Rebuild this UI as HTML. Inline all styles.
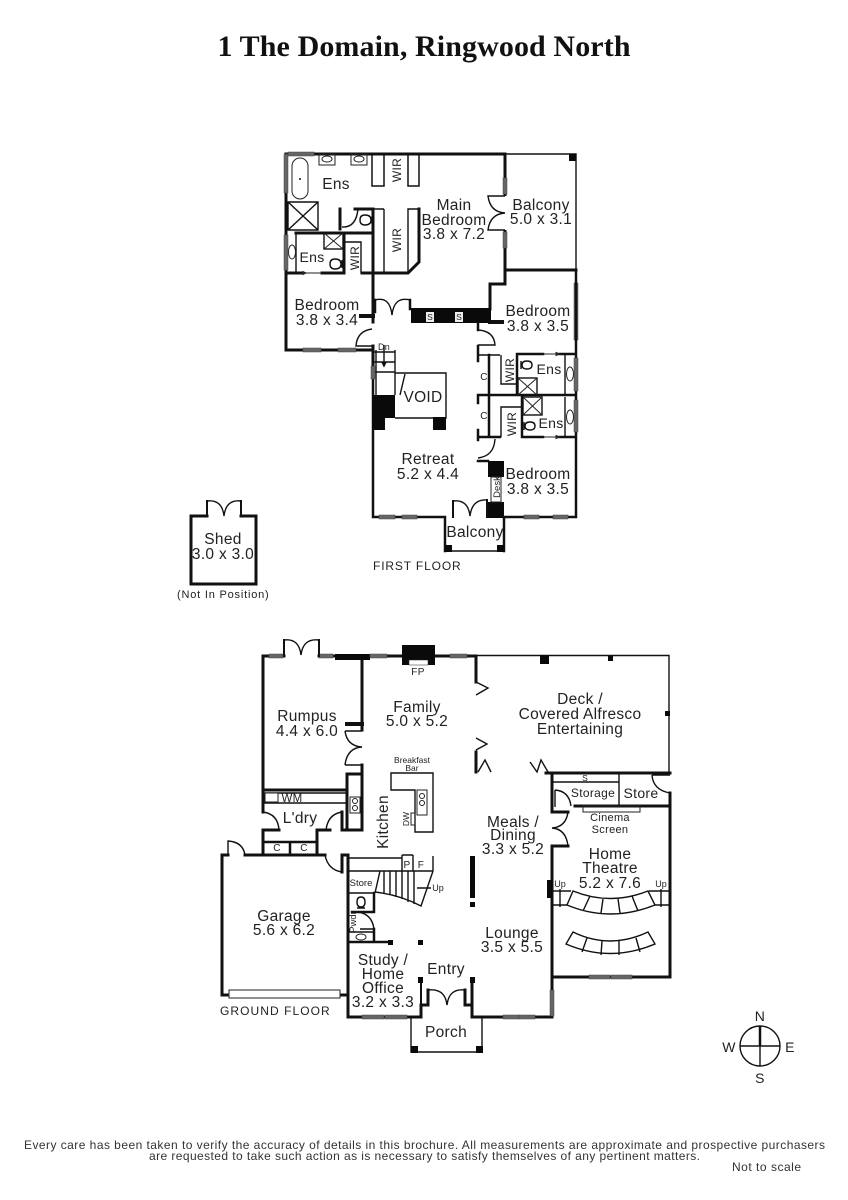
<!DOCTYPE html>
<html><head><meta charset="utf-8"><style>
html,body{margin:0;padding:0;background:#fff}
svg{display:block}
text{font-family:"Liberation Sans",sans-serif;fill:#222;text-anchor:middle}
.l{font-size:15.5px;letter-spacing:.3px}
.m{font-size:12px;letter-spacing:.3px}
.s{font-size:10px;letter-spacing:.3px}
.x{font-size:8.5px}
.w{fill:none;stroke:#111;stroke-width:3;stroke-linecap:square;stroke-linejoin:miter}
.n{fill:none;stroke:#111;stroke-width:1.4}
.t{fill:none;stroke:#222;stroke-width:1}
.g{fill:#666;stroke:#444;stroke-width:.5}
.b{fill:#0a0a0a}
.f{fill:#fff;stroke:#222;stroke-width:1}
</style></head><body>
<svg width="848" height="1200" viewBox="0 0 848 1200" xmlns="http://www.w3.org/2000/svg">
<rect width="848" height="1200" fill="#fff"/>
<text x="424" y="56" style="font-family:'Liberation Serif',serif;font-weight:bold;font-size:30px;fill:#111" textLength="413" lengthAdjust="spacing">1 The Domain, Ringwood North</text>

<!-- FIRST FLOOR walls -->
<path class="w" d="M286 154H505V270M505 270H576M505 284H490V309M505 270V284M286 154V350H373M373 346V374"/>
<path class="n" d="M505 154H576V270"/>
<path class="w" d="M373 209V322M286 273H302M322 273H343M362 273H408L419 262V209M344 233V273M296 233H373M340 209V229M355 209H373"/>
<path class="w" d="M361 316H373" style="stroke-width:4"/>
<path class="w" d="M490 322H502" style="stroke-width:4"/>
<rect class="b" x="411" y="308" width="80" height="15"/>
<rect x="426" y="312" width="8" height="10" fill="#eee"/><rect x="455" y="312" width="8" height="10" fill="#eee"/>
<text class="x" x="430" y="320">S</text><text class="x" x="459" y="320">S</text>
<path class="w" d="M375 300V312M410 300V309" style="stroke-width:2.5"/>
<path class="n" d="M375 300Q390 296 392 315Q394 296 410 300"/>
<path class="n" d="M372 329Q357 331 356 346H372M478 330Q494 331 495 345H478"/>
<path class="w" d="M478 323V330M478 346V361" style="stroke-width:2.500"/>
<path class="n" d="M342 227Q356 228 358 209M288 202h30v28h-30zM288 202l30 28M318 202l-30 28"/>
<rect class="t" x="292" y="158" width="16" height="41" rx="8"/><circle cx="300" cy="179" r="1" fill="#111"/>
<rect class="t" x="319" y="154" width="16" height="11"/><ellipse class="t" cx="327" cy="159" rx="5" ry="3"/>
<rect class="t" x="351" y="154" width="16" height="11"/><ellipse class="t" cx="359" cy="159" rx="5" ry="3"/>
<rect class="w" style="stroke-width:1.5" x="372" y="154" width="12" height="32"/>
<rect class="w" style="stroke-width:1.5" x="408" y="154" width="11" height="32"/>
<path class="n" d="M384 209V273M373 209H384M408 273V209H419M296 233V273M344 242H361V273"/>
<rect x="324" y="233" width="19" height="16" class="n"/><path class="t" d="M324 233l19 16M343 233l-19 16"/>
<ellipse class="t" cx="292" cy="252" rx="3.5" ry="7"/>
<rect class="g" x="284" y="154" width="4" height="39"/><rect class="g" x="284" y="235" width="4" height="35"/>
<rect class="g" x="288" y="152" width="26" height="4"/>
<rect fill="#fff" x="503" y="196" width="5" height="34"/>
<rect class="g" x="503" y="178" width="4" height="16"/><rect class="g" x="503" y="232" width="4" height="16"/>
<path class="n" d="M505 196H488Q490 212 505 213Q490 214 488 230H505"/>
<rect class="b" x="569" y="154" width="7.500" height="7"/>
<path class="t" d="M302 273H322M306 273l-3-1.500v3z"/>
<rect class="g" x="303" y="348" width="18" height="4"/><rect class="g" x="338" y="348" width="18" height="4"/>
<rect class="g" x="574" y="283" width="4" height="57"/>
<g class="n"><path d="M365 215q6 0 6 5t-6 5q-5 0-5-5t5-5M372 216v8" /><path d="M335 259q6 0 6 5t-6 5q-5 0-5-5t5-5M342 260v8"/></g>

<path class="w" d="M576 270V517H504M373 374V517H445M445 517V551M504 517V551M478 395H576M478 437H500M518 354H543M560 354H576M522 437H543M560 437H576M517 354V395M522 397V437M489 355V437M478 395V403M478 430V440M478 461H488" style="stroke-width:2.500"/>
<path class="n" d="M445 551H504M478 355H500M501 355V384H517M501 437V407H522M565 355V395M565 397V437M376 350V395M395 350V395M374 352H395M374 362H395M374 372H395M395 373H446V418H433M395 418H433M405 374L400 395M384 345V365M382 362L384 366L386 362"/>
<path class="t" d="M543 354H560M543 437H560M556 352.500l4 1.500-4 1.500zM556 435.500l4 1.500-4 1.500z"/>
<rect class="b" x="372" y="395" width="23" height="23"/><rect class="b" x="372" y="418" width="13" height="12"/>
<rect class="b" x="433" y="417" width="13" height="13"/>
<rect class="b" x="488" y="461" width="16" height="16"/><rect class="b" x="488" y="502" width="16" height="16"/>
<rect class="f" x="491" y="477" width="10" height="25"/>
<rect class="b" x="445" y="545" width="7" height="7"/><rect class="b" x="497" y="545" width="7" height="7"/>
<rect class="g" x="371" y="366" width="4" height="13"/>
<rect class="g" x="379" y="515" width="16" height="4"/><rect class="g" x="402" y="515" width="15" height="4"/>
<rect class="g" x="524" y="515" width="15" height="4"/><rect class="g" x="553" y="515" width="15" height="4"/>
<rect class="g" x="574" y="358" width="4" height="33"/><rect class="g" x="574" y="400" width="4" height="32"/>
<path class="w" style="stroke-width:2" d="M453 517V501M487 517V500"/>
<path class="n" d="M453 501Q468 499 470 516Q472 499 487 500M478 458Q494 456 495 439"/>
<rect class="n" x="518" y="378" width="19" height="17"/><path class="t" d="M518 378l19 17M537 378l-19 17"/>
<rect class="n" x="523" y="397" width="19" height="18"/><path class="t" d="M523 397l19 18M542 397l-19 18"/>
<ellipse class="t" cx="570" cy="374" rx="3.500" ry="7"/><ellipse class="t" cx="570" cy="417" rx="3.500" ry="7"/>
<g class="n"><path d="M527 361q5 0 5 4t-5 4q-5 0-5-4t5-4M521 361v8"/><path d="M530 422q5 0 5 4t-5 4q-5 0-5-4t5-4M524 422v8"/></g>

<!-- First-floor labels -->
<text class="l" x="336" y="189">Ens</text>
<text class="l" x="312" y="262" style="font-size:14px">Ens</text>
<text class="m" transform="translate(401,170) rotate(-90)">WIR</text>
<text class="m" transform="translate(401,240) rotate(-90)">WIR</text>
<text class="m" transform="translate(359,258) rotate(-90)">WIR</text>
<text class="m" transform="translate(514,370) rotate(-90)">WIR</text>
<text class="m" transform="translate(516,424) rotate(-90)">WIR</text>
<text class="l" x="454" y="210">Main</text><text class="l" x="454" y="225">Bedroom</text><text class="l" x="454" y="239">3.8 x 7.2</text>
<text class="l" x="541" y="210">Balcony</text><text class="l" x="541" y="224">5.0 x 3.1</text>
<text class="l" x="327" y="310">Bedroom</text><text class="l" x="327" y="325">3.8 x 3.4</text>
<text class="l" x="538" y="316">Bedroom</text><text class="l" x="538" y="331">3.8 x 3.5</text>
<text class="l" x="549" y="374" style="font-size:14px">Ens</text><text class="l" x="551" y="428" style="font-size:14px">Ens</text>
<text class="s" x="384" y="350" style="font-size:9px">Dn</text>
<text class="s" x="484" y="380">C</text><text class="s" x="484" y="419">C</text>
<text class="l" x="423" y="402">VOID</text>
<text class="l" x="428" y="464">Retreat</text><text class="l" x="428" y="479">5.2 x 4.4</text>
<text class="l" x="538" y="479">Bedroom</text><text class="l" x="538" y="494">3.8 x 3.5</text>
<text class="x" transform="translate(500,487) rotate(-90)" style="font-size:9.500px">Desk</text>
<text class="l" x="475" y="537">Balcony</text>
<text class="m" x="417" y="570" textLength="88" lengthAdjust="spacing">FIRST FLOOR</text>

<!-- Shed -->
<path class="w" d="M207 516H191V584H256V516H241" style="stroke-width:3"/>
<path class="w" d="M207 516V501M241 516V501" style="stroke-width:2"/>
<path class="n" d="M207 501Q222 499 224 516Q226 499 241 501"/>
<text class="l" x="223" y="544">Shed</text><text class="l" x="223" y="559">3.0 x 3.0</text>
<text class="s" x="223" y="598" style="font-size:11px" textLength="92" lengthAdjust="spacing">(Not In Position)</text>

<!-- GROUND FLOOR -->
<path class="w" d="M263 656V812M263 830V855M263 656H284M319 656H335M387 656H402M435 656H450M467 656H476M476 656V682M362 658V730M362 765V774H347V830M362 774V830M263 790H347M263 830H279M317 855V830H330M342 812V830H362M222 855H228M245 855H325M222 855V995H229M340 995H348M348 855V1017H421V1005H428V990M342 855V872M342 855H348M465 990V1005H472V983M472 1017H552M472 983V1017M552 846V1017M552 846H568M552 773V812H568M546 773H670M670 793V976M552 977H670M575 806H670M476 752V772"/>
<rect class="b" x="335" y="654" width="35" height="6"/>
<rect class="b" x="402" y="645" width="33" height="20"/><rect x="409" y="660" width="19" height="5" fill="#fff" stroke="#222" stroke-width=".5"/>
<rect class="g" x="269" y="654" width="14" height="4"/><rect class="g" x="319" y="654" width="14" height="4"/>
<rect class="g" x="370" y="654" width="17" height="4"/><rect class="g" x="450" y="654" width="17" height="4"/>
<path class="w" d="M284 656V640M319 656V640" style="stroke-width:2"/>
<path class="n" d="M284 640Q299 638 301 655Q303 638 319 640"/>
<path class="w" d="M347 724H362" style="stroke-width:4"/>
<path class="n" d="M345 731Q347 746 362 747Q347 748 345 765M345 731H362M345 765H362"/>
<path class="n" d="M263 803H347M263 812Q278 814 279 830M342 812Q328 814 326 830M263 793H347"/>
<rect class="f" x="265" y="793" width="13" height="9"/>
<text class="m" x="292" y="802" style="font-size:11.500px">WM</text>
<rect class="f" x="350" y="797" width="10" height="16"/><circle class="t" cx="355" cy="801" r="2.500"/><circle class="t" cx="355" cy="808" r="2.500"/>
<path class="w" d="M263 842H317M290 842V855" style="stroke-width:2.500"/>
<text class="s" x="277" y="851">C</text><text class="s" x="304" y="851">C</text>
<text class="l" x="300" y="823">L'dry</text>
<text class="l" x="307" y="721">Rumpus</text><text class="l" x="307" y="736">4.4 x 6.0</text>
<text class="l" x="417" y="712">Family</text><text class="l" x="417" y="726">5.0 x 5.2</text>
<text class="s" x="418" y="675">FP</text>
<text class="l" transform="translate(388,822) rotate(-90)">Kitchen</text>
<text class="x" x="412" y="763">Breakfast</text><text class="x" x="412" y="771">Bar</text>
<path class="n" d="M391 773H433V832H415V790H391Z"/>
<rect class="f" x="417" y="790" width="10" height="25"/><circle class="t" cx="422" cy="796" r="2.500"/><circle class="t" cx="422" cy="803" r="2.500"/>
<rect class="t" x="411" y="813" width="4" height="12"/>
<text class="x" transform="translate(409,819) rotate(-90)">DW</text>

<!-- deck -->
<path class="n" d="M476 655.500H669V773M476 682L488 688L476 695M476 738L487 744L476 750M478 772L485 760L491 772M530 762L537 772L541 760L548 772"/>
<rect class="b" x="540" y="655" width="9" height="9"/><rect class="b" x="608" y="656" width="5" height="5"/><rect class="b" x="665" y="711" width="5" height="5"/>
<text class="l" x="580" y="704">Deck /</text><text class="l" x="580" y="719">Covered Alfresco</text><text class="l" x="580" y="734">Entertaining</text>
<path class="n" d="M552 782H619M619 773V806M555 790Q569 791 571 806M555 790V807M652 775Q653 790 670 793M652 775H670"/>
<text class="x" x="585" y="781">S</text>
<text class="m" x="593" y="797">Storage</text><text class="l" x="641" y="798" style="font-size:14px">Store</text>
<rect class="t" x="583" y="806" width="57" height="6"/>
<text class="m" x="610" y="821" style="font-size:11px">Cinema</text><text class="m" x="610" y="833" style="font-size:11px">Screen</text>
<path class="n" d="M568 812Q566 827 552 828Q566 829 568 846"/>
<text class="l" x="610" y="859">Home</text><text class="l" x="610" y="873">Theatre</text><text class="l" x="610" y="888">5.2 x 7.6</text>
<rect class="b" x="547" y="880" width="5" height="18"/>
<text class="x" x="560" y="887" style="font-size:9px">Up</text><text class="x" x="661" y="887" style="font-size:9px">Up</text>
<path class="n" d="M552 891H571M649 891H670M552 905H567M655 905H670M560 889V907M661 889V907"/>
<path class="n" d="M573 891Q610 906 648 891L655 905Q610 923 567 905ZM590 896L583 911M603 899L601 913M618 899L620 913M632 896L638 911"/>
<path class="n" d="M573 932Q610 950 648 932L655 944Q610 963 566 944ZM587 938L582 952M602 941L601 955M619 941V955M636 938L640 952"/>
<rect class="g" x="589" y="975" width="21" height="4"/><rect class="g" x="611" y="975" width="21" height="4"/>
<rect class="g" x="550" y="990" width="4" height="26"/>
<rect class="b" x="470" y="856" width="5" height="42"/><rect class="b" x="470" y="902" width="5" height="5"/>
<text class="l" x="513" y="827">Meals /</text><text class="l" x="513" y="840">Dining</text><text class="l" x="513" y="854">3.3 x 5.2</text>
<text class="l" x="512" y="938">Lounge</text><text class="l" x="512" y="952">3.5 x 5.5</text>

<!-- garage & stairs -->
<path class="n" d="M228 855V841Q243 842 245 855M325 855Q328 870 342 872"/>
<rect class="f" x="229" y="990" width="111" height="8"/>
<path class="n" d="M348 858H402M348 871H433M402 855V871M413 855V871M402 855H413M433 856V871"/>
<text class="s" x="407" y="868">P</text><text class="s" x="421" y="868">F</text>
<path class="n" d="M380 871L375 893M348 893H374M375 892Q400 895 421 906L433 871M384 871V894M390 871V895M396 871V897M402 871V899M408 871V902M414 871V904M417 888H431"/>
<text class="x" x="361" y="886" style="font-size:9.500px">Store</text><text class="x" x="438" y="891" style="font-size:9px">Up</text>
<path class="w" d="M374 893V912H352M374 929V942M348 942H390" style="stroke-width:2.500"/>
<path class="n" d="M358 912Q372 914 374 929H360M348 932H374"/>
<ellipse class="t" cx="361" cy="937" rx="5" ry="3"/>
<g class="n"><path d="M361 897q4 0 4 5t-4 5q-4 0-4-5t4-5M357 908h8"/></g>
<text class="x" transform="translate(356,922) rotate(-90)" style="font-size:9.500px">Pwdr</text>
<rect class="b" x="388" y="940" width="5" height="5"/><rect class="b" x="418" y="940" width="5" height="5"/>
<rect class="b" x="418" y="977" width="5" height="6"/><rect class="b" x="470" y="977" width="5" height="6"/>
<path class="w" d="M421 983V1005" style="stroke-width:2"/>
<path class="n" d="M428 990Q445 988 447 1005Q449 988 465 990"/>
<text class="l" x="383" y="965">Study /</text><text class="l" x="383" y="979">Home</text><text class="l" x="383" y="993">Office</text><text class="l" x="383" y="1007">3.2 x 3.3</text>
<text class="l" x="446" y="974">Entry</text>
<text class="l" x="284" y="921">Garage</text><text class="l" x="284" y="935">5.6 x 6.2</text>
<text class="m" x="275" y="1015" textLength="110" lengthAdjust="spacing">GROUND FLOOR</text>
<rect class="g" x="362" y="1015" width="22" height="4"/><rect class="g" x="385" y="1015" width="22" height="4"/>
<rect class="g" x="503" y="1015" width="16" height="4"/><rect class="g" x="519" y="1015" width="16" height="4"/>
<path class="n" d="M411 1017V1052H482V1017"/>
<rect class="b" x="411" y="1046" width="7" height="7"/><rect class="b" x="476" y="1046" width="7" height="7"/>
<text class="l" x="446" y="1037">Porch</text>

<!-- compass -->
<circle class="n" cx="760" cy="1046" r="20"/>
<path class="n" d="M740 1046H780M760 1046V1066"/><path d="M760 1026V1046" stroke="#111" stroke-width="2.500"/>
<text class="l" x="760" y="1021" style="font-size:14px">N</text><text class="l" x="760" y="1083" style="font-size:14px">S</text>
<text class="l" x="729" y="1052" style="font-size:14px">W</text><text class="l" x="790" y="1052" style="font-size:14px">E</text>

<!-- footer -->
<text x="424.500" y="1149" style="font-size:12px;fill:#333" textLength="801" lengthAdjust="spacing">Every care has been taken to verify the accuracy of details in this brochure.  All measurements are approximate and prospective purchasers</text>
<text x="424.500" y="1160" style="font-size:12px;fill:#333" textLength="551" lengthAdjust="spacing">are requested to take such action as is necessary to satisfy themselves of any pertinent matters.</text>
<text x="766.500" y="1171" style="font-size:12px;fill:#333" textLength="69" lengthAdjust="spacing">Not to scale</text>
</svg>
</body></html>
